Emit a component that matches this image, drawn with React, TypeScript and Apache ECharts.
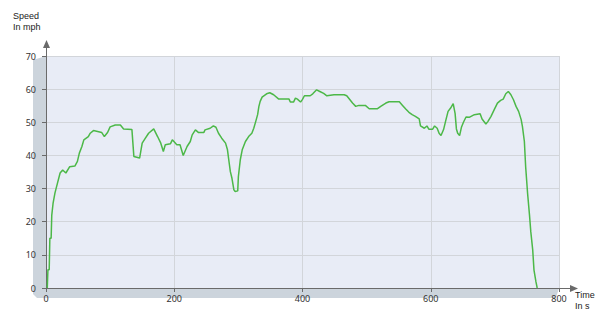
import React, { useEffect, useRef } from "react";
import * as echarts from "echarts";

const times = [2,3,5,6,8,9,11,14,18,22,26,31,37,45,49,52,56,59,66,69,74,87,91,96,100,108,116,121,134,137,146,150,155,160,168,174,179,183,186,194,197,204,209,214,220,225,228,233,238,246,248,256,261,265,269,274,280,283,285,287.5,290,293,295,299,300,303,306,311,316,321,324,327,330,332,334,337,344,349,355,363,379,381,386,389,392,397,400,403,412,416,422,427,433,438,449,465,469,474,478,483,488,498,504,517,522,530,535,551,556,561,566,571,576,582,584,590,594,597,603,606,610,613,616,620,623,627,631,635,638,640,642,645,648,651,655,660,668,677,680,686,689,694,699,704,709,713,717,721,725,729,733,737,741,743,746,748,751,754,756,759,761,764,766];
const speeds = [0,5.5,5.5,15,15,22,25.5,28.7,31.7,34.7,35.6,34.7,36.6,36.8,38.2,40.7,42.7,44.7,45.7,46.7,47.5,46.9,45.7,46.9,48.6,49.2,49.2,48,47.8,39.7,39.2,43.7,45.2,46.7,48,45.7,43.7,41.2,43.2,43.5,44.7,43.2,43.2,40,42.7,44.2,46.2,47.7,46.9,46.9,47.7,48.2,48.9,48.5,46.7,45.2,43.7,41.7,38.7,35.1,33.1,29.6,29.1,29.3,33.6,38.7,41.7,44.2,45.7,46.7,48.2,50.2,52.3,54.8,56.3,57.6,58.6,58.9,58.3,57,57,56.1,56.1,57.3,57,56.1,56.9,58,58,58.6,59.8,59.3,58.7,58,58.3,58.3,58,56.8,55.8,54.8,55.1,55.1,54.1,54.1,54.8,55.8,56.2,56.2,55.1,54,53,52.3,51.8,51,48.9,48.2,48.9,47.9,47.9,48.9,48.2,46.7,46,47.8,50.2,53.3,54.3,55.6,52.6,48,46.7,46,48.6,50,51.6,51.5,52.3,52.6,51,49.5,50.2,51.8,53.8,55.8,56.6,57,58.6,59.3,58.3,56.8,54.8,53.3,50.8,48.7,44.2,36.6,28.6,22,17,11.5,5.4,1.9,0];

const xTicks = { min: 0, max: 800, interval: 200 };
const yTicks = { min: 0, max: 70, interval: 10 };
const yNameLines = ["Speed", "In mph"];
const xNameLines = ["Time", "In s"];

const FONT = "Noto Sans";
const NAME_FONT = "Liberation Sans";
const AXIS = "#6a6a6a";

export default function App() {
  const ref = useRef<HTMLDivElement>(null);
  useEffect(() => {
    document.body.style.margin = "0";
    const chart = echarts.init(ref.current!, undefined, { renderer: "svg" });
    const data = times.map((t, i) => [t, speeds[i]]);
    const nameText = (text: string, x: number, y: number) => ({
      type: "text",
      x,
      y,
      style: { text, fill: "#222", font: `9px '${NAME_FONT}'`, verticalAlign: "top", lineHeight: 10 },
    });
    chart.setOption({
      animation: false,
      backgroundColor: "#ffffff",
      grid: {
        left: 46,
        right: 39,
        top: 56,
        bottom: 23,
        show: true,
        backgroundColor: "#e8ecf6",
        borderWidth: 0,
      },
      xAxis: {
        type: "value",
        min: xTicks.min,
        max: xTicks.max,
        interval: xTicks.interval,
        axisLine: { show: true, lineStyle: { color: AXIS, width: 1 } },
        axisTick: { show: true, length: 4, lineStyle: { color: AXIS } },
        axisLabel: { color: "#333", fontSize: 9, fontFamily: FONT, margin: 6 },
        splitLine: { show: true, lineStyle: { color: "#d2d5da", width: 1 } },
      },
      yAxis: {
        type: "value",
        min: yTicks.min,
        max: yTicks.max,
        interval: yTicks.interval,
        axisLine: { show: true, lineStyle: { color: AXIS, width: 1 } },
        axisTick: { show: true, length: 4, lineStyle: { color: AXIS } },
        axisLabel: { color: "#333", fontSize: 9, fontFamily: FONT, margin: 10 },
        splitLine: { show: true, lineStyle: { color: "#d2d5da", width: 1 } },
      },
      graphic: [
        {
          type: "polygon",
          z: -1,
          shape: {
            points: [[46, 56], [33, 60], [33, 294], [37, 298], [556, 298], [559, 288], [46, 288]],
          },
          style: { fill: "#ccd4dc" },
        },
        {
          type: "line",
          shape: { x1: 46.5, y1: 56, x2: 46.5, y2: 44 },
          style: { stroke: AXIS, lineWidth: 1 },
        },
        {
          type: "polygon",
          shape: { points: [[43, 48], [46.5, 40], [50, 48]] },
          style: { fill: AXIS },
        },
        {
          type: "line",
          shape: { x1: 559, y1: 288.5, x2: 572, y2: 288.5 },
          style: { stroke: AXIS, lineWidth: 1 },
        },
        {
          type: "polygon",
          shape: { points: [[570, 285], [578, 288.5], [570, 292]] },
          style: { fill: AXIS },
        },
        nameText(yNameLines[0], 13, 11),
        nameText(yNameLines[1], 13, 22),
        nameText(xNameLines[0], 575, 290),
        nameText(xNameLines[1], 575, 301),
      ],
      series: [
        {
          type: "line",
          data,
          showSymbol: false,
          lineStyle: { color: "#4cb848", width: 1.5 },
          itemStyle: { color: "#4cb848" },
        },
      ],
    });
    return () => chart.dispose();
  }, []);
  return <div ref={ref} style={{ width: 598, height: 311 }} />;
}
